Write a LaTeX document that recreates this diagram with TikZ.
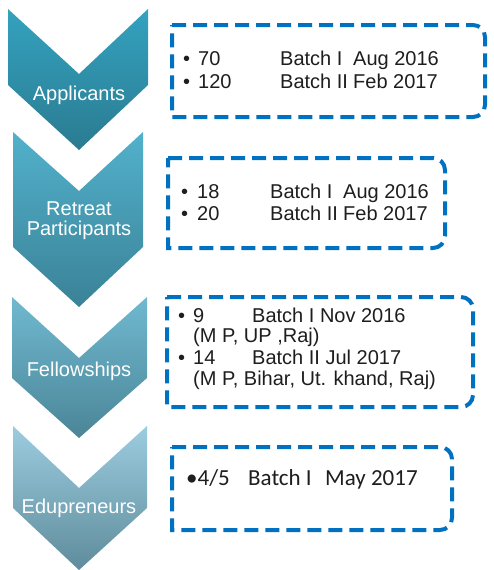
\documentclass[tikz,border=0pt]{standalone}
\usepackage{fontspec}
\setmainfont{Liberation Sans}
\newfontfamily\calib{Carlito}
\definecolor{boxblue}{HTML}{0070C0}
\definecolor{txt}{HTML}{1E1E1E}
\definecolor{caT}{HTML}{34A2BF}\definecolor{caB}{HTML}{2A7B91}
\definecolor{cbT}{HTML}{52B1CB}\definecolor{cbB}{HTML}{3A8297}
\definecolor{ccT}{HTML}{70B9D0}\definecolor{ccB}{HTML}{4B8597}
\definecolor{cdT}{HTML}{9CCCDF}\definecolor{cdB}{HTML}{5E8C9C}
\begin{document}
\begin{tikzpicture}[x=1pt,y=1pt,
  lbl/.style={font=\fontsize{20}{24}\selectfont, text=white, anchor=base, inner sep=0pt},
  itm/.style={font=\fontsize{20}{24}\selectfont, text=txt, anchor=base west, inner sep=0pt},
  itmc/.style={font=\calib\fontsize{23}{27}\selectfont, text=txt, anchor=base west, inner sep=0pt},
  bx/.style={draw=boxblue, line width=4pt, dash pattern=on 14pt off 7pt, fill=white}]
\useasboundingbox (0,0) rectangle (493,-570);
% chevrons
\shade[top color=caT, bottom color=caB] (8,-9) -- (79,-74) -- (148,-9) -- (148,-85) -- (79,-150) -- (8,-85) -- cycle;
\shade[top color=cbT, bottom color=cbB] (13,-132) -- (79,-191) -- (143,-132) -- (143,-247) -- (79,-307) -- (13,-247) -- cycle;
\shade[top color=ccT, bottom color=ccB] (12,-297) -- (79,-358) -- (147,-297) -- (147,-378) -- (79,-438) -- (12,-378) -- cycle;
\shade[top color=cdT, bottom color=cdB] (13,-426) -- (79,-488) -- (147,-426) -- (147,-508) -- (79,-570) -- (13,-508) -- cycle;
\node[lbl] (l1) at (79,-100) {Applicants};
\node[lbl] (l2a) at (79,-215) {Retreat};
\node[lbl] (l2b) at (79,-235) {Participants};
\node[lbl] (l3) at (79,-376) {Fellowships};
\node[lbl] (l4) at (79,-513) {Edupreneurs};
% boxes
\draw[bx] (172,-25) -- (473,-25) arc[start angle=90,end angle=0,radius=12] -- (485,-105) arc[start angle=0,end angle=-90,radius=12] -- (172,-117) -- cycle;
\draw[bx] (168,-158) -- (433,-158) arc[start angle=90,end angle=0,radius=12] -- (445,-236) arc[start angle=0,end angle=-90,radius=12] -- (168,-248) -- cycle;
\draw[bx] (167,-297) -- (461,-297) arc[start angle=90,end angle=0,radius=12] -- (473,-395) arc[start angle=0,end angle=-90,radius=12] -- (167,-407) -- cycle;
\draw[bx] (172,-447) -- (440,-447) arc[start angle=90,end angle=0,radius=12] -- (452,-518) arc[start angle=0,end angle=-90,radius=12] -- (172,-530) -- cycle;
% box 1
\node[itm] (b1a) at (183,-65) {•};
\node[itm] (n1a) at (198,-65) {70};
\node[itm] (t1a) at (280,-65) {Batch I};
\node[itm] (d1a) at (353,-65) {Aug 2016};
\node[itm] (b1b) at (183,-88) {•};
\node[itm] (n1b) at (198,-88) {120};
\node[itm] (t1b) at (280,-88) {Batch II};
\node[itm] (d1b) at (353,-88) {Feb 2017};
% box 2
\node[itm] (b2a) at (181,-198) {•};
\node[itm] (n2a) at (197,-198) {18};
\node[itm] (t2a) at (270,-198) {Batch I};
\node[itm] (d2a) at (343,-198) {Aug 2016};
\node[itm] (b2b) at (181,-220) {•};
\node[itm] (n2b) at (197,-220) {20};
\node[itm] (t2b) at (270,-220) {Batch II};
\node[itm] (d2b) at (343,-220) {Feb 2017};
% box 3
\node[itm] (b3a) at (178,-322) {•};
\node[itm] (n3a) at (193,-322) {9};
\node[itm] (t3a) at (252,-322) {Batch I Nov 2016};
\node[itm] (s3a) at (193,-342) {(M P, UP ,Raj)};
\node[itm] (b3b) at (178,-364) {•};
\node[itm] (n3b) at (193,-364) {14};
\node[itm] (t3b) at (252,-364) {Batch II Jul 2017};
\node[itm] (s3b) at (193,-385) {(M P, Bihar, Ut. khand, Raj)};
% box 4
\node[itmc] (n4) at (186,-485) {•4/5};
\node[itmc] (t4) at (248,-485) {Batch I};
\node[itmc] (d4) at (325,-485) {May 2017};
\end{tikzpicture}
\end{document}
